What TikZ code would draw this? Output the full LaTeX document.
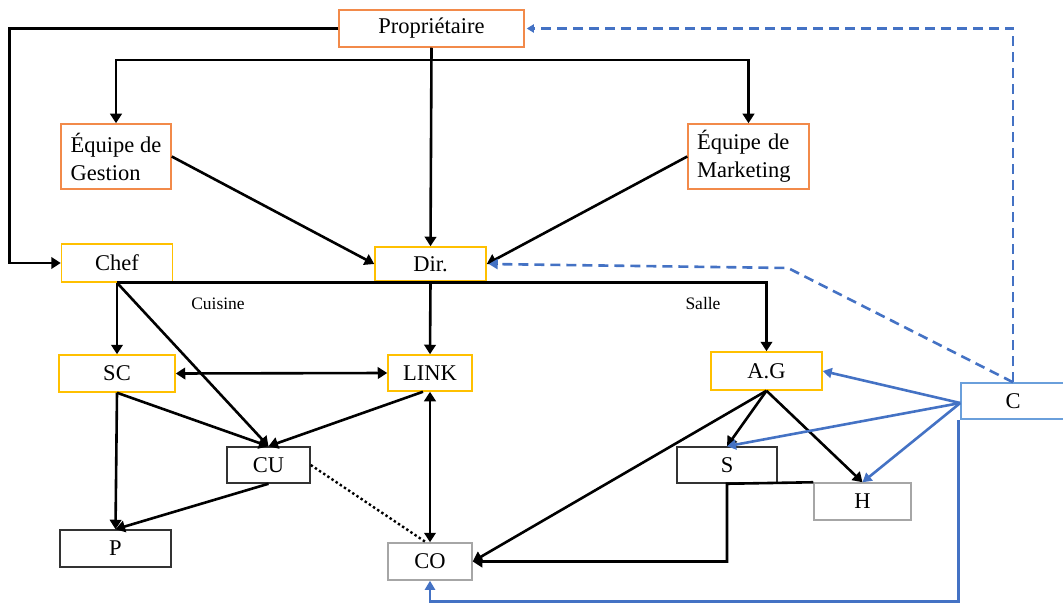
\documentclass[tikz,border=0pt]{standalone}
\usepackage{fontspec}
\setmainfont{Liberation Serif}
\usetikzlibrary{arrows.meta}

\definecolor{boxorange}{HTML}{F28A4A}
\definecolor{boxyellow}{HTML}{FFC000}
\definecolor{boxgrey}{HTML}{A6A6A6}
\definecolor{boxdark}{HTML}{333333}
\definecolor{boxsky}{HTML}{6A9FDB}
\definecolor{linkblue}{HTML}{4472C4}

\tikzset{
  box/.style={draw, rectangle, line width=1.5pt, inner sep=0pt, fill=white,
    font=\fontsize{22.5}{28}\selectfont},
  obox/.style={box, draw=boxorange},
  ybox/.style={box, draw=boxyellow},
  gbox/.style={box, draw=boxgrey},
  kbox/.style={box, draw=boxdark},
  cbox/.style={box, draw=boxsky},
  lbl/.style={font=\fontsize{17.5}{20}\selectfont, inner sep=0pt},
  arr/.style={line width=2.6pt, -{Triangle[length=9.5pt,width=11.5pt]}},
  darr/.style={line width=2.6pt, {Triangle[length=9.5pt,width=11.5pt]}-{Triangle[length=9.5pt,width=11.5pt]}},
  dotline/.style={line width=2.4pt, dash pattern=on 2.4pt off 2.6pt},
  barr/.style={draw=linkblue, line width=2.6pt, -{Triangle[length=9pt,width=10pt]}},
  bdash/.style={draw=linkblue, line width=2.6pt, dash pattern=on 10pt off 6pt},
}

\begin{document}
\begin{tikzpicture}[x=1pt, y=-1pt]
\useasboundingbox (0,0) rectangle (1063,604);

% boxes
\node[obox, minimum width=185, minimum height=37] (prop) at (431.5,28.5) {Propriétaire};
\node[obox, align=left, minimum width=110, minimum height=65] (gest) at (116,156.5) {Équipe de\\Gestion};
\node[obox, align=left, text width=103, inner xsep=9, minimum height=65] (mark) at (748.5,156.5) {Équipe de\\Marketing};
\node[ybox, minimum width=111, minimum height=38] (chef) at (117,263) {Chef};
\node[ybox, minimum width=111, minimum height=34] (dir) at (430.5,264) {Dir.};
\node[ybox, minimum width=116, minimum height=37] (sc) at (117,373.5) {SC};
\node[ybox, minimum width=84, minimum height=36] (link) at (430,373) {LINK};
\node[kbox, minimum width=83, minimum height=36] (cu) at (268.5,465) {CU};
\node[kbox, minimum width=111, minimum height=37] (p) at (115.5,548.5) {P};
\node[gbox, minimum width=84, minimum height=37] (co) at (430,561.5) {CO};
\node[ybox, minimum width=111, minimum height=38] (ag) at (766.5,371) {A.G};
\node[kbox, minimum width=100, minimum height=36] (s) at (727,465) {S};
\node[gbox, minimum width=97, minimum height=37] (h) at (862.5,501.5) {H};
\node[cbox, minimum width=104, minimum height=36] (c) at (1013,401) {C};

% section labels
\node[lbl] (cuisine) at (218,304) {Cuisine};
\node[lbl] (salle) at (703,304) {Salle};

% owner links
\coordinate (bus) at (431.5,60);
\draw[arr] (prop.west) -| ([xshift=-51pt]chef.west) -- (chef.west);
\draw[arr] (prop.south) -- (dir.north);
\draw[arr] (bus) -| (gest.north);
\draw[arr] (bus) -| (mark.north);
\draw[arr] (gest.east) -- (dir.west);
\draw[arr] (mark.west) -- (dir.east);

% kitchen and floor
\draw[arr] (chef.south) -| (ag.north);
\draw[arr] (chef.south) -- (sc.north);
\draw[arr] (chef.south) -- (cu.north);
\draw[arr] (dir.south) -- (link.north);
\draw[darr] (sc.east) -- (link.west);
\draw[arr] (sc.south) -- (cu.north);
\draw[arr] (sc.south) -- (p.north);
\draw[arr] (cu.south) -- (p.north);
\draw[arr] ([xshift=-7pt]link.south) -- (cu.north);
\draw[darr] (link.south) -- (co.north);
\draw[dotline] (cu.east) -- ([xshift=-4pt]co.north);

\draw[arr] (ag.south) -- (s.north);
\draw[arr] (ag.south) -- (h.north);
\draw[arr] (ag.south) -- (co.east);
\draw[arr] (h.north west) -- (s.south) |- (co.east);

% client links
\coordinate (kink) at (788,268);
\draw[bdash, -{Triangle[length=7pt,width=8pt]}] (c.north) |- ([xshift=2pt]prop.east);
\draw[bdash, -{Triangle[length=9pt,width=10pt]}] (c.north) -- (kink) -- ([xshift=2pt]dir.east);
\draw[barr] ([yshift=-2pt]c.west) -- (ag.east);
\draw[barr] ([yshift=-2pt]c.west) -- (s.north);
\draw[barr] ([yshift=-2pt]c.west) -- (h.north);
\draw[barr] ([xshift=-1.5pt]c.south west) -- ([xshift=-1.5pt,yshift=-182pt]c.south west) -| (co.south);
\end{tikzpicture}
\end{document}
